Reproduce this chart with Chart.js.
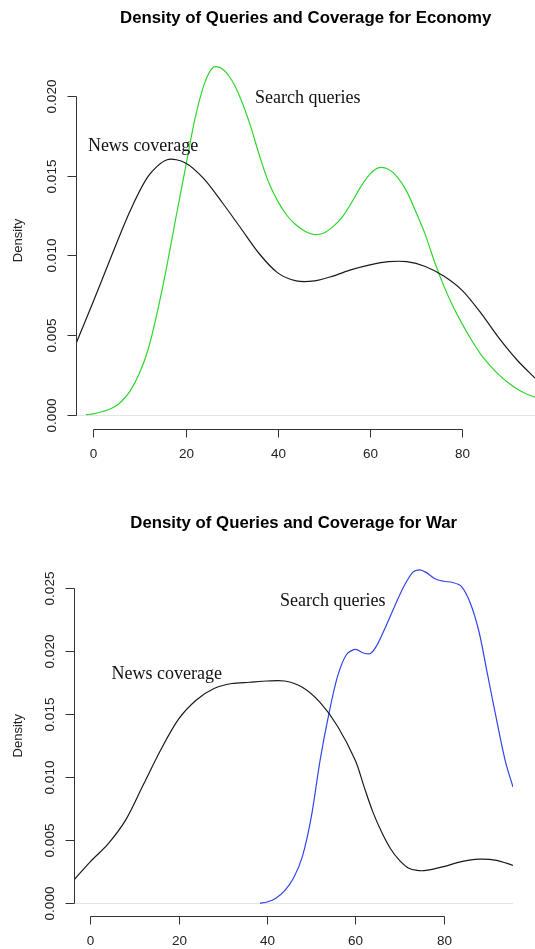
<!DOCTYPE html>
<html>
<head>
<meta charset="utf-8">
<script src="https://cdn.jsdelivr.net/npm/chart.js@4.4.1/dist/chart.umd.min.js"></script>
<style>
	html, body { margin: 0; padding: 0; background: #fff; overflow: hidden; }
	#mainDiv { position: relative; width: 535px; height: 949px; }
	.box { position: absolute; left: 0; width: 535px; }
</style>
</head>
<body>
<div id="mainDiv">
	<div class="box" style="top:0px;height:474px;"><canvas id="econChart" width="535" height="474"></canvas></div>
	<div class="box" style="top:474px;height:475px;"><canvas id="warChart" width="535" height="475"></canvas></div>
</div>
<script>
// Economy - news coverage (black)
const econNewsX = [-3.7, 0, 4, 8, 12, 16, 20, 24, 28, 32, 36, 40, 44, 48, 52, 56, 60, 64, 68, 72, 76, 80, 84, 88, 92, 95.8];
const econNewsY = [0.0045, 0.0071, 0.0100, 0.0128, 0.0150, 0.0160, 0.0158, 0.0148, 0.0133, 0.0117, 0.0101, 0.0089, 0.0084, 0.0084, 0.0087, 0.0091, 0.0094, 0.0096, 0.0096, 0.0093, 0.0087, 0.0078, 0.0064, 0.0048, 0.0034, 0.0023];
// Economy - search queries (green)
const econQueryX = [-1.6, 0, 2, 4, 6, 8, 10, 12, 14, 16, 18, 20, 22, 24, 26, 28, 30, 32, 34, 36, 38, 40, 42, 44, 46, 48, 50, 52, 54, 56, 58, 60, 62, 64, 66, 68, 70, 72, 74, 76, 78, 80, 82, 84, 86, 88, 90, 92, 94, 95.8];
const econQueryY = [0, 0.00005, 0.0002, 0.0004, 0.0008, 0.0015, 0.0026, 0.0042, 0.0066, 0.0094, 0.0125, 0.0155, 0.0185, 0.0207, 0.0218, 0.0217, 0.0210, 0.0198, 0.0182, 0.0163, 0.0146, 0.0134, 0.0125, 0.0119, 0.0115, 0.0113, 0.0114, 0.0118, 0.0124, 0.0133, 0.0143, 0.0151, 0.0155, 0.0154, 0.0149, 0.0140, 0.0127, 0.0113, 0.0096, 0.0081, 0.0068, 0.0057, 0.0047, 0.0038, 0.0031, 0.0025, 0.0020, 0.0016, 0.0013, 0.0011];

// War - news coverage (black)
const warNewsX = [-3.6, 0, 4, 8, 12, 16, 20, 24, 28, 32, 36, 40, 44, 48, 52, 56, 60, 62, 64, 66, 68, 70, 72, 74, 76, 80, 84, 88, 92, 95.7];
const warNewsY = [0.0019, 0.0033, 0.0047, 0.0066, 0.0094, 0.0122, 0.0146, 0.0161, 0.0170, 0.0174, 0.0175, 0.0176, 0.0176, 0.0171, 0.0159, 0.0140, 0.0113, 0.0092, 0.0072, 0.0056, 0.0043, 0.0034, 0.0028, 0.0026, 0.0026, 0.0029, 0.0033, 0.0035, 0.0034, 0.0030];
// War - search queries (blue)
const warQueryX = [38.4, 40, 42, 44, 46, 48, 50, 52, 54, 56, 58, 60, 62, 63.5, 65, 67, 69, 71, 73, 74.6, 76, 78, 80, 82, 84, 86, 88, 90, 92, 94, 95.7];
const warQueryY = [0, 0.0001, 0.0004, 0.0010, 0.0020, 0.0037, 0.0068, 0.0113, 0.0150, 0.0180, 0.0197, 0.0201, 0.0198, 0.0198, 0.0205, 0.0220, 0.0236, 0.0251, 0.0262, 0.0264, 0.0262, 0.0257, 0.0255, 0.0254, 0.0251, 0.0238, 0.0215, 0.0180, 0.0145, 0.0112, 0.0092];

// axis ticks
const xTicks = [0, 20, 40, 60, 80];
const econYTicks = [0, 0.005, 0.010, 0.015, 0.020];
const econYLabels = ['0.000', '0.005', '0.010', '0.015', '0.020'];
const warYTicks = [0, 0.005, 0.010, 0.015, 0.020, 0.025];
const warYLabels = ['0.000', '0.005', '0.010', '0.015', '0.020', '0.025'];

const SANS = '"Liberation Sans", Arial, Helvetica, sans-serif';
const SERIF = '"Liberation Serif", "Times New Roman", serif';

function toPoints(xs, ys) {
	return xs.map((v, i) => ({ x: v, y: ys[i] }));
}

// R 스타일 축, 제목, 곡선 라벨
const rAxes = {
	id: 'rAxes',
	beforeDatasetsDraw(chart, args, opts) {
		const { ctx, chartArea: a, scales: { y } } = chart;
		const y0 = Math.round(y.getPixelForValue(0)) + 0.5;
		ctx.save();
		ctx.strokeStyle = '#e4e4e4';
		ctx.lineWidth = 1;
		ctx.beginPath();
		ctx.moveTo(a.left, y0);
		ctx.lineTo(a.right, y0);
		ctx.stroke();
		ctx.restore();
	},
	afterDraw(chart, args, opts) {
		const { ctx, chartArea: a, scales: { x, y } } = chart;
		ctx.save();
		ctx.strokeStyle = '#333';
		ctx.fillStyle = '#222';
		ctx.lineWidth = 1;

		// x axis
		const xb = Math.round(a.bottom) + 0.5;
		const xs = opts.xTicks.map(v => Math.round(x.getPixelForValue(v)) + 0.5);
		ctx.beginPath();
		ctx.moveTo(xs[0], xb);
		ctx.lineTo(xs[xs.length - 1], xb);
		xs.forEach(px => { ctx.moveTo(px, xb); ctx.lineTo(px, xb + 8); });
		ctx.stroke();
		ctx.font = '13.5px ' + SANS;
		ctx.textAlign = 'center';
		ctx.textBaseline = 'middle';
		xs.forEach((px, i) => ctx.fillText(String(opts.xTicks[i]), px, xb + 25));

		// y axis
		const yl = Math.round(a.left) + 0.5;
		const ys = opts.yTicks.map(v => Math.round(y.getPixelForValue(v)) + 0.5);
		ctx.beginPath();
		ctx.moveTo(yl, ys[0]);
		ctx.lineTo(yl, ys[ys.length - 1]);
		ys.forEach(py => { ctx.moveTo(yl, py); ctx.lineTo(yl - 9, py); });
		ctx.stroke();
		ys.forEach((py, i) => {
			ctx.save();
			ctx.translate(yl - 24.5, py);
			ctx.rotate(-Math.PI / 2);
			ctx.fillText(opts.yLabels[i], 0, 0);
			ctx.restore();
		});

		// y label
		ctx.save();
		ctx.font = '13px ' + SANS;
		ctx.translate(18.5, (a.top + a.bottom) / 2);
		ctx.rotate(-Math.PI / 2);
		ctx.fillText('Density', 0, 0);
		ctx.restore();

		// title
		ctx.fillStyle = '#000';
		ctx.font = 'bold 16.8px ' + SANS;
		ctx.fillText(opts.title, (a.left + a.right) / 2, opts.titleY);

		// curve labels
		ctx.fillStyle = '#111';
		ctx.font = '18px ' + SERIF;
		opts.labels.forEach(l => {
			ctx.fillText(l.text, x.getPixelForValue(l.x), y.getPixelForValue(l.y));
		});
		ctx.restore();
	}
};

function lineSet(points, color) {
	return {
		data: points,
		borderColor: color,
		borderWidth: 1.2,
		pointRadius: 0,
		fill: false,
		tension: 0.3
	};
}

function makeChart(id, datasets, scaleX, scaleY, padding, axisOpts) {
	return new Chart(document.getElementById(id), {
		type: 'line',
		data: { datasets: datasets },
		options: {
			responsive: false,
			animation: false,
			devicePixelRatio: 1,
			layout: { padding: padding },
			scales: {
				x: { type: 'linear', display: false, min: scaleX[0], max: scaleX[1] },
				y: { type: 'linear', display: false, min: scaleY[0], max: scaleY[1] }
			},
			plugins: {
				legend: { display: false },
				tooltip: { enabled: false },
				rAxes: axisOpts
			}
		},
		plugins: [rAxes]
	});
}

document.addEventListener('DOMContentLoaded', () => {
	makeChart('econChart',
		[lineSet(toPoints(econNewsX, econNewsY), '#1a1a1a'), lineSet(toPoints(econQueryX, econQueryY), '#2ed62e')],
		[-3.69, 95.8], [-0.000897, 0.02276],
		{ left: 76.3, top: 52, right: 0, bottom: 45 },
		{
			title: 'Density of Queries and Coverage for Economy', titleY: 18.5,
			xTicks: xTicks, yTicks: econYTicks, yLabels: econYLabels,
			labels: [
				{ text: 'News coverage', x: 10.8, y: 0.01683 },
				{ text: 'Search queries', x: 46.5, y: 0.01986 }
			]
		});

	makeChart('warChart',
		[lineSet(toPoints(warNewsX, warNewsY), '#1a1a1a'), lineSet(toPoints(warQueryX, warQueryY), '#3345ea')],
		[-3.65, 95.7], [-0.00103, 0.02756],
		{ left: 74.3, top: 81.2, right: 22, bottom: 32.7 },
		{
			title: 'Density of Queries and Coverage for War', titleY: 49.3,
			xTicks: xTicks, yTicks: warYTicks, yLabels: warYLabels,
			labels: [
				{ text: 'Search queries', x: 54.9, y: 0.02394 },
				{ text: 'News coverage', x: 17.3, y: 0.01816 }
			]
		});
});
</script>
</body>
</html>
